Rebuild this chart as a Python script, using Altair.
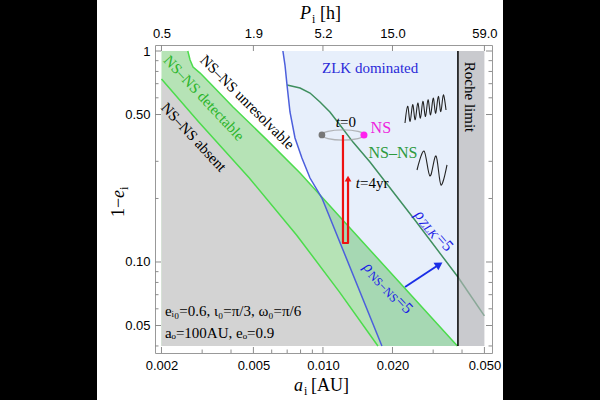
import altair as alt
import pandas as pd

# ---------------- data ----------------
X_DOMAIN = [0.001875, 0.05393]   # frame edges (a_i, AU)
Y_DOMAIN = [0.03704, 1.0677]     # frame edges (1-e_i)
A_LO, A_HI = 0.002, 0.05
V_LO, V_HI = 0.04, 1.0

x_major = [0.002, 0.005, 0.01, 0.02, 0.05]
x_minor = [0.003, 0.004, 0.006, 0.007, 0.008, 0.009, 0.03, 0.04]
p_labels = ["0.5", "1.9", "5.2", "15.0", "59.0"]
y_major = [1.0, 0.5, 0.1, 0.05]
y_minor = [0.9, 0.8, 0.7, 0.6, 0.3, 0.2, 0.09, 0.08, 0.07, 0.06, 0.04]

# lower boundary of the detectable band (NS-NS absent below)
lower_a = [0.002, 0.0029, 0.0048, 0.0077, 0.0118, 0.0173]
lower_v = [0.737, 0.461, 0.250, 0.134, 0.072, 0.04]
# upper boundary of the detectable band (unresolvable above)
upper_a = [0.0026, 0.00266, 0.00274, 0.00294, 0.00324, 0.00408, 0.00572, 0.00796, 0.01598, 0.0382]
upper_v = [1.0, 0.906, 0.840, 0.786, 0.705, 0.543, 0.379, 0.264, 0.114, 0.04]
# ZLK-dominated boundary (blue)
blue_a = [0.00671, 0.00685, 0.00699, 0.0072, 0.00757, 0.00811, 0.00879, 0.0099, 0.018]
blue_v = [1.0, 0.858, 0.690, 0.514, 0.387, 0.311, 0.250, 0.201, 0.04]
# rho_ZLK = 5 curve (dark green)
zlk_a = [0.00699, 0.00796, 0.00879, 0.00971, 0.01072, 0.01185, 0.01349, 0.01598, 0.0250, 0.0384]
zlk_v = [0.690, 0.668, 0.632, 0.573, 0.514, 0.446, 0.370, 0.298, 0.158, 0.0849]
zlk2_a = [0.0384, 0.05]
zlk2_v = [0.0849, 0.0555]
roche_a = 0.0384

# evolution track (red)
track_a = [0.01221, 0.01221, 0.01284, 0.01284]
track_v = [0.400, 0.123, 0.123, 0.2486]
ellipse_a, ellipse_v = 0.01221, 0.400
dot_gray = (0.0099, 0.400)
dot_mag = (0.01505, 0.400)
arrow_red = (0.01284, 0.2486)
# blue arrow
barrow_a = [0.02266, 0.03186]
barrow_v = [0.0761, 0.0973]
# GW squiggles
sq1_a = [0.02266, 0.02326, 0.02384, 0.02446, 0.02508, 0.02574, 0.02642, 0.02708, 0.02780,
         0.02850, 0.02924, 0.03002, 0.03076, 0.03158, 0.03238, 0.03322, 0.0341]
sq1_v = [0.456, 0.5475, 0.4638, 0.557, 0.4720, 0.5670, 0.4808, 0.5775, 0.4893,
         0.5877, 0.4979, 0.5981, 0.5067, 0.6093, 0.5162, 0.6200, 0.5253]
sq2_a = [0.02554, 0.02738, 0.02906, 0.03086, 0.03244, 0.03444]
sq2_v = [0.2729, 0.3358, 0.2556, 0.3179, 0.2317, 0.2883]

W, H = 337, 308
SERIF = "Liberation Serif"
SANS = "Liberation Sans"

XS = alt.Scale(type="log", domain=X_DOMAIN, nice=False)
YS = alt.Scale(type="log", domain=Y_DOMAIN, nice=False)


def ex(axis=None):
    return alt.X("a:Q", scale=XS, axis=axis)


def ey(axis=None):
    return alt.Y("v:Q", scale=YS, axis=axis)


def curve(a, v, base=None):
    df = pd.DataFrame({"a": a, "v": v, "i": list(range(len(a)))})
    if base is not None:
        df["v2"] = base
    return df


one = pd.DataFrame({"k": [0]})
layers = []

# black side bands of the picture
for x0, x1 in [(-155, -58), (348, 445)]:
    layers.append(alt.Chart(one).mark_rect(color="black").encode(
        x=alt.value(x0), x2=alt.value(x1), y=alt.value(-45), y2=alt.value(355)))


def region(a, v, base, color, opacity=1.0):
    return alt.Chart(curve(a, v, base)).mark_area(color=color, opacity=opacity).encode(
        x=ex(), y=ey(), y2="v2:Q")


# ZLK dominated region
layers.append(region(blue_a + [roche_a], blue_v + [V_LO], V_HI, "#e7effb"))
# Roche region
layers.append(alt.Chart(pd.DataFrame({"a": [roche_a], "a2": [A_HI], "v": [V_LO], "v2": [V_HI]}))
              .mark_rect(color="#c9cace").encode(x=ex(), x2="a2:Q", y=ey(), y2="v2:Q"))
# detectable band
layers.append(region([A_LO] + upper_a, [V_HI] + upper_v, V_LO, "#22aa22", 0.33))
# absent region
layers.append(region(lower_a, lower_v, V_LO, "#d3d3d3"))


def line(a, v, color, width=1.5, **kw):
    return alt.Chart(curve(a, v)).mark_line(color=color, strokeWidth=width, **kw).encode(
        x=ex(), y=ey(), order="i:Q")


layers.append(line(lower_a, lower_v, "#4cdc4c"))
layers.append(line(upper_a, upper_v, "#4cdc4c"))
layers.append(line(zlk_a, zlk_v, "#3f8f5f"))
layers.append(line(zlk2_a, zlk2_v, "#8aa898"))
layers.append(line(blue_a, blue_v, "#4c5fdc"))
layers.append(alt.Chart(pd.DataFrame({"a": [roche_a], "v": [V_LO], "v2": [V_HI]})).mark_rule(
    color="black", strokeWidth=1.5).encode(x=ex(), y=ey(), y2="v2:Q"))

# ellipse + dots
ell = "M-1,0A1,0.24,0,1,1,1,0A1,0.24,0,1,1,-1,0Z"
layers.append(alt.Chart(pd.DataFrame({"a": [ellipse_a], "v": [ellipse_v]})).mark_point(
    shape=ell, size=1800, color="#9a9a9a", strokeWidth=1.3, filled=False).encode(x=ex(), y=ey()))
layers.append(alt.Chart(pd.DataFrame({"a": [dot_gray[0]], "v": [dot_gray[1]]})).mark_point(
    shape="circle", size=45, color="#777777", filled=True, opacity=1).encode(x=ex(), y=ey()))
layers.append(alt.Chart(pd.DataFrame({"a": [dot_mag[0]], "v": [dot_mag[1]]})).mark_point(
    shape="circle", size=50, color="#ff22ee", filled=True, opacity=1).encode(x=ex(), y=ey()))
# red track
layers.append(line(track_a, track_v, "#ee1111", width=2.2, strokeJoin="round"))
layers.append(alt.Chart(pd.DataFrame({"a": [arrow_red[0]], "v": [arrow_red[1]]})).mark_point(
    shape="triangle-up", size=45, color="#ee1111", filled=True, opacity=1).encode(x=ex(), y=ey()))
# blue arrow
layers.append(line(barrow_a, barrow_v, "#1a2ee6", width=2))
layers.append(alt.Chart(pd.DataFrame({"a": [barrow_a[1]], "v": [barrow_v[1]]})).mark_point(
    shape="triangle-right", angle=327, size=80, color="#1a2ee6", filled=True, opacity=1).encode(x=ex(), y=ey()))
# squiggles
layers.append(line(sq1_a, sq1_v, "#222222", width=1.1, interpolate="cardinal"))
layers.append(line(sq2_a, sq2_v, "#222222", width=1.1, interpolate="cardinal"))


def txt(text, a, v, size=15, color="black", angle=0, align="center", baseline="middle",
        style="normal", dx=0, dy=0, font=SERIF):
    return alt.Chart(pd.DataFrame({"a": [a], "v": [v]})).mark_text(
        text=text, fontSize=size, color=color, angle=angle, align=align, baseline=baseline,
        fontStyle=style, dx=dx, dy=dy, font=font).encode(x=ex(), y=ey())


layers += [
    txt("ZLK dominated", 0.016, 0.831, size=15, color="#2a2ad8"),
    txt("Roche limit", 0.0433, 0.605, size=15, angle=90),
    txt("NS–NS unresolvable", 0.00471, 0.573, size=15, angle=45),
    txt("NS–NS detectable", 0.00306, 0.599, size=15, angle=47, color="#2cb52c"),
    txt("NS–NS absent", 0.00276, 0.391, size=15, angle=47),
    txt("t", 0.01246, 0.461, size=15, style="italic", align="right", dx=-5),
    txt("=0", 0.01246, 0.461, size=15, align="left", dx=-5),
    txt("t", 0.0163, 0.2368, size=15, style="italic", align="right", dx=-12),
    txt("=4yr", 0.0163, 0.2368, size=15, align="left", dx=-12),
    txt("NS", 0.0178, 0.4316, size=16, color="#ee22dd"),
    txt("NS–NS", 0.0201, 0.3286, size=16, color="#2e9a3e"),
    # rho_ZLK = 5
    txt("ρ", 0.02579, 0.1726, size=16, style="italic", angle=49, align="left", color="#1a1ae6"),
    txt("ZLK", 0.02579, 0.1726, size=12, style="italic", angle=49, align="left", dx=9, dy=3, color="#1a1ae6"),
    txt("=5", 0.02579, 0.1726, size=16, angle=49, align="left", dx=32, color="#1a1ae6"),
    # rho_NS-NS = 5
    txt("ρ", 0.01542, 0.0974, size=16, style="italic", angle=47, align="left", color="#1a1ae6"),
    txt("NS−NS", 0.01542, 0.0974, size=12, angle=47, align="left", dx=9, dy=3, color="#1a1ae6"),
    txt("=5", 0.01542, 0.0974, size=16, angle=47, align="left", dx=47, color="#1a1ae6"),
    # parameters
    txt("eᵢ₀=0.6,  ι₀=π/3,  ω₀=π/6", 0.00207, 0.0586, size=15, align="left"),
    txt("aₒ=100AU,  eₒ=0.9", 0.00207, 0.0461, size=15, align="left"),
]


# axis titles (outside the plot area)
def ptxt(text, x, y, size=18, style="normal", align="left", angle=0, baseline="alphabetic"):
    return alt.Chart(one).mark_text(text=text, fontSize=size, fontStyle=style, align=align,
                                    angle=angle, baseline=baseline, font=SERIF, color="black").encode(
        x=alt.value(x), y=alt.value(y))


layers += [
    ptxt("a", 148, 346, style="italic", align="right"),
    ptxt("i", 149, 350, size=12),
    ptxt("[AU]", 156, 346),
    ptxt("P", 145, -26, style="italic"),
    ptxt("i", 157, -22, size=12),
    ptxt("[h]", 165, -26),
    ptxt("1−", -31, 172, angle=270),
    ptxt("e", -31, 153, angle=270, style="italic"),
    ptxt("i", -27, 145, size=12, angle=270),
]

# frame ticks and tick labels
TICK = "#8c8c8c"
bottom_axis = alt.Axis(orient="bottom", values=x_major, format=".3f", domain=False, ticks=False,
                       tickSize=0, grid=False, labelPadding=6, labelFont=SANS, labelFontSize=13,
                       labelColor="black", labelFlush=False, title=None)
p_expr = ("datum.value < 0.003 ? '{0}' : datum.value < 0.007 ? '{1}' : datum.value < 0.015 ? '{2}'"
          " : datum.value < 0.03 ? '{3}' : '{4}'").format(*p_labels)
top_axis = alt.Axis(orient="top", values=x_major, labelExpr=p_expr, domain=False, ticks=False,
                    tickSize=0, grid=False, labelPadding=5, labelFont=SANS, labelFontSize=13,
                    labelColor="black", labelFlush=False, title=None)
left_axis = alt.Axis(orient="left", values=y_major,
                     labelExpr="datum.value > 0.99 ? '1' : format(datum.value, '.2f')",
                     domain=False, ticks=False, tickSize=0, grid=False, labelPadding=5,
                     labelFont=SANS, labelFontSize=13, labelColor="black", labelFlush=False,
                     title=None)

xmaj = pd.DataFrame({"a": x_major})
xmin = pd.DataFrame({"a": x_minor})
ymaj = pd.DataFrame({"v": y_major})
ymin = pd.DataFrame({"v": y_minor})

layers += [
    alt.Chart(xmaj).mark_rule(color=TICK).encode(x=ex(bottom_axis), y=alt.value(H), y2=alt.value(H - 6)),
    alt.Chart(xmaj).mark_rule(color=TICK).encode(x=ex(top_axis), y=alt.value(0), y2=alt.value(6)),
    alt.Chart(xmin).mark_rule(color=TICK).encode(x=ex(), y=alt.value(H), y2=alt.value(H - 3.5)),
    alt.Chart(ymaj).mark_rule(color=TICK).encode(y=ey(left_axis), x=alt.value(0), x2=alt.value(6)),
    alt.Chart(ymaj).mark_rule(color=TICK).encode(y=ey(), x=alt.value(W), x2=alt.value(W - 6)),
    alt.Chart(ymin).mark_rule(color=TICK).encode(y=ey(), x=alt.value(0), x2=alt.value(3.5)),
    alt.Chart(ymin).mark_rule(color=TICK).encode(y=ey(), x=alt.value(W), x2=alt.value(W - 3.5)),
]

chart = alt.layer(*layers).resolve_axis(x="independent", y="independent").properties(
    width=W, height=H, autosize="none", background="white",
    padding={"left": 155, "top": 45, "right": 108, "bottom": 47},
).configure_view(stroke="#999999", strokeWidth=1)

chart.save("out.html", embed_options={"renderer": "svg", "actions": False})
